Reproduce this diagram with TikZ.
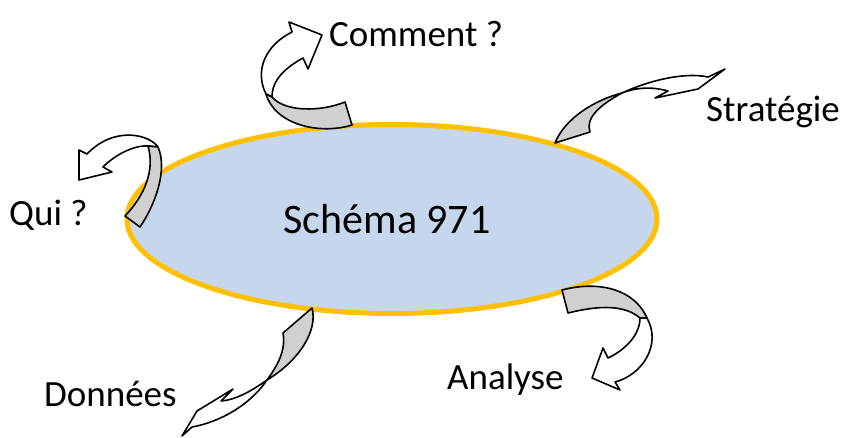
\documentclass[tikz,border=0pt]{standalone}
\usepackage{fontspec}
\setmainfont{Carlito}
\usetikzlibrary{shapes.geometric}

\definecolor{ovalfill}{HTML}{C6D6EC}
\definecolor{ovalline}{HTML}{FFC000}
\definecolor{foldgray}{HTML}{D0D0D0}

\tikzset{
	oval/.style={ellipse, draw=ovalline, line width=5pt, fill=ovalfill, minimum width=530pt, minimum height=189pt, font=\fontsize{42}{50}\selectfont},
	label/.style={anchor=base west, inner sep=0pt, font=\fontsize{37}{44}\selectfont},
	fold/.style={draw=black, line width=1.6pt, line join=round, fill=foldgray},
	blade/.style={draw=black, line width=1.6pt, line join=round, fill=white}
}

\begin{document}
\begin{tikzpicture}[x=1pt, y=-1pt]
	\useasboundingbox (0,0) rectangle (849,437);

	\node[oval] (schema) at (392,219) {\hspace*{-10pt}Schéma 971};

	\node[label] (comment) at (329,46) {Comment ?};
	\node[label] (strategie) at (706,121) {Stratégie};
	\node[label] (qui) at (9,225) {Qui ?};
	\node[label] (donnees) at (44,406) {Données};
	\node[label] (analyse) at (447,389) {Analyse};

	% Comment ?
	\draw[blade] (266,94) .. controls (254,70) and (266,45) .. (292,32) -- (289,22) -- (322,35) -- (308,69) -- (303,58) .. controls (285,68) and (272,80) .. (272,97) -- cycle;
	\draw[fold] (266,94) .. controls (275,125) and (320,135) .. (352,125) -- (345,102) .. controls (320,112) and (285,112) .. (272,97) -- cycle;

	% Strategie
	\draw[blade] (622,93) .. controls (650,80) and (685,72) .. (708,77) -- (725,69) -- (698,89) -- (655,98) -- (668,91) .. controls (650,86) and (635,88) .. (622,93) -- cycle;
	\draw[fold] (555,143) .. controls (565,118) and (595,100) .. (622,93) .. controls (600,105) and (585,118) .. (590,132) -- cycle;

	% Qui ?
	\draw[blade] (158,147) .. controls (150,135) and (115,125) .. (87,154) -- (79,150) -- (79,180) -- (112,172) -- (103,167) .. controls (120,150) and (140,145) .. (148,146) -- cycle;
	\draw[fold] (125,216) -- (140,227) .. controls (155,205) and (168,170) .. (158,147) -- (148,146) .. controls (155,170) and (145,195) .. (125,216) -- cycle;

	% Donnees
	\draw[blade] (267,380) .. controls (250,392) and (235,400) .. (221,401) -- (233,389) -- (197,411) -- (182,436) -- (192,427) .. controls (220,422) and (250,405) .. (267,380) -- cycle;
	\draw[fold] (312,308) .. controls (318,330) and (300,360) .. (267,380) .. controls (278,365) and (286,350) .. (283,333) -- cycle;

	% Analyse
	\draw[blade] (647,318) .. controls (662,345) and (642,375) .. (615,382) -- (620,390) -- (592,378) -- (603,348) -- (608,358) .. controls (625,350) and (640,335) .. (640,318) -- cycle;
	\draw[fold] (562,290) .. controls (600,280) and (635,290) .. (647,318) -- (640,318) .. controls (625,305) and (600,305) .. (568,313) -- cycle;
\end{tikzpicture}
\end{document}
